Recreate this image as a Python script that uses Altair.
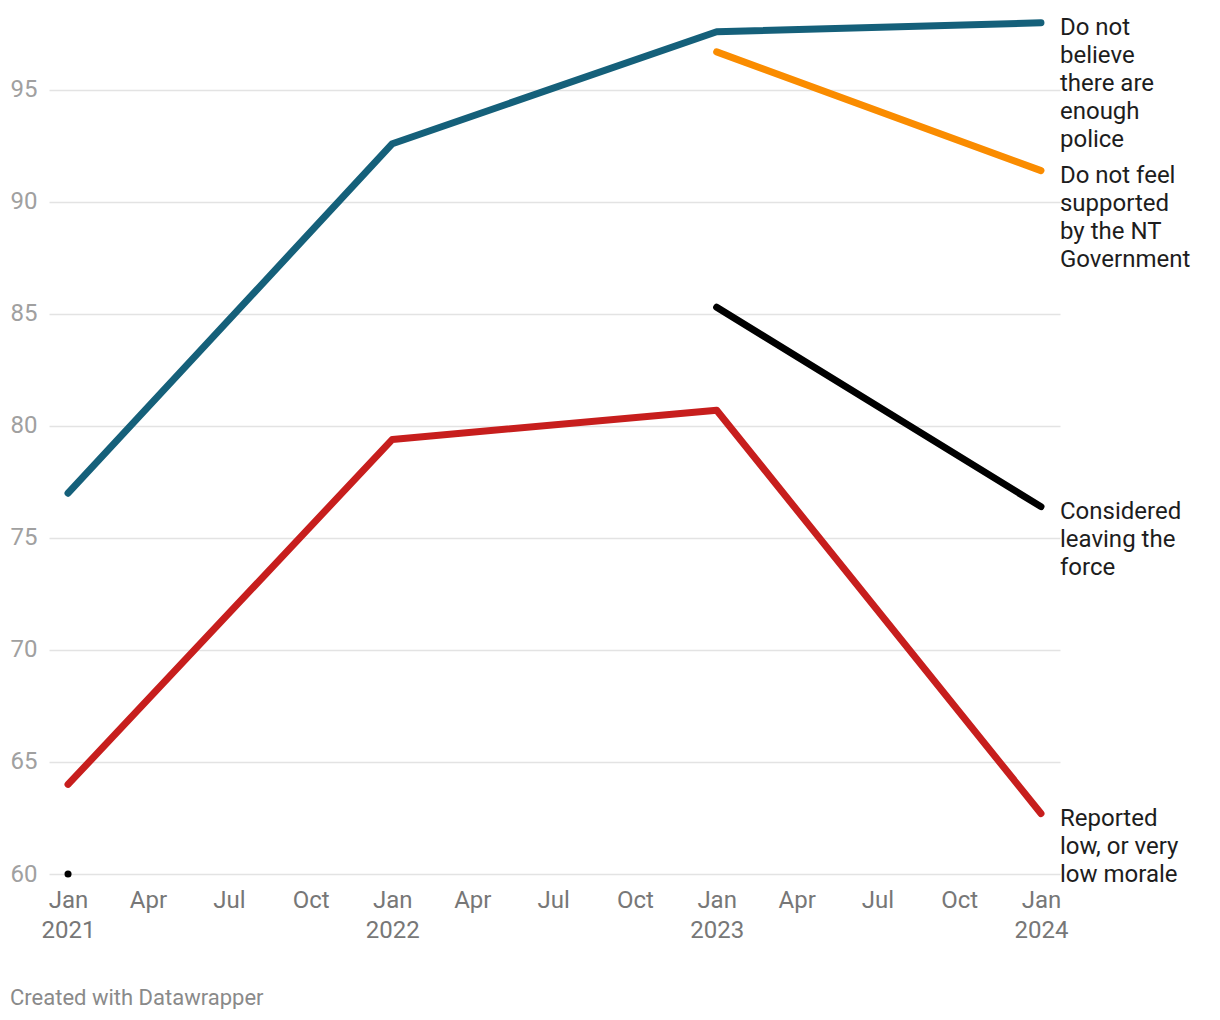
import altair as alt
import pandas as pd

dates = ["2021-01-01", "2022-01-01", "2023-01-01", "2024-01-01"]
series_names = [
    "Do not believe there are enough police",
    "Do not feel supported by the NT Government",
    "Considered leaving the force",
    "Reported low, or very low morale",
]
label_texts = [
    "Do not\nbelieve\nthere are\nenough\npolice",
    "Do not feel\nsupported\nby the NT\nGovernment",
    "Considered\nleaving the\nforce",
    "Reported\nlow, or very\nlow morale",
]
police = [77.0, 92.6, 97.6, 98.0]
support = [None, None, 96.7, 91.4]
leaving = [None, None, 85.3, 76.4]
morale = [64.0, 79.4, 80.7, 62.7]
colors = ["#15607a", "#fa8c00", "#000000", "#c71e1d"]

dot_dates = ["2021-01-01"]
dot_values = [60]

y_ticks = [60, 65, 70, 75, 80, 85, 90, 95]

rows = []
for name, vals in zip(series_names, [police, support, leaving, morale]):
    for d, v in zip(dates, vals):
        if v is not None:
            rows.append({"date": d, "value": v, "series": name})
df = pd.DataFrame(rows)

lab_rows = []
for name, txt, vals in zip(series_names, label_texts, [police, support, leaving, morale]):
    lab_rows.append({"date": dates[-1], "value": vals[-1], "series": name, "label": txt})
labels_df = pd.DataFrame(lab_rows)

dot_df = pd.DataFrame({"date": dot_dates, "value": dot_values})

tick_values = []
for y in [2021, 2022, 2023]:
    for m in [1, 4, 7, 10]:
        tick_values.append(alt.DateTime(year=y, month=m, date=1, utc=True))
tick_values.append(alt.DateTime(year=2024, month=1, date=1, utc=True))

x_scale = alt.Scale(
    type="utc",
    domain=[
        alt.DateTime(year=2020, month=12, date=10, hours=14, utc=True),
        alt.DateTime(year=2024, month=1, date=22, hours=10, utc=True),
    ],
    nice=False,
)
y_scale = alt.Scale(domain=[60, 98.48], nice=False, zero=False)

x_enc = alt.X(
    "date:T",
    scale=x_scale,
    title=None,
    axis=alt.Axis(
        values=tick_values,
        labelExpr="utcmonth(datum.value) == 0 ? [utcFormat(datum.value, '%b'), utcFormat(datum.value, '%Y')] : utcFormat(datum.value, '%b')",
        grid=False,
        domain=False,
        ticks=False,
        labelFontSize=24,
        labelColor="#777777",
        labelFont="Roboto",
        labelPadding=14,
        labelLineHeight=30,
        labelFlush=False,
        labelOverlap=False,
    ),
)
y_enc = alt.Y(
    "value:Q",
    scale=y_scale,
    title=None,
    axis=alt.Axis(
        values=y_ticks,
        grid=True,
        gridColor="#e3e3e3",
        gridWidth=1.3,
        domain=False,
        ticks=False,
        labelFontSize=24,
        labelColor="#a0a0a0",
        labelFont="Roboto",
        labelPadding=12,
    ),
)

color_enc = alt.Color(
    "series:N",
    scale=alt.Scale(domain=series_names, range=colors),
    legend=None,
)

lines = alt.Chart(df).mark_line(strokeWidth=7, strokeCap="round", strokeJoin="round").encode(
    x=x_enc, y=y_enc, color=color_enc, detail="series:N"
)

texts = alt.Chart(labels_df).mark_text(
    align="left",
    baseline="alphabetic",
    dx=19,
    dy=12.5,
    lineBreak="\n",
    lineHeight=28,
    fontSize=24,
    font="Roboto",
    color="#1d1d1d",
).encode(x="date:T", y="value:Q", text="label:N")

dot = alt.Chart(dot_df).mark_circle(size=50, color="#000000", opacity=1).encode(
    x="date:T", y="value:Q"
)

chart = (
    alt.layer(lines, texts, dot)
    .properties(
        width=1011,
        height=862,
        autosize=alt.AutoSizeParams(type="none"),
        padding={"left": 41, "top": 4, "right": 150, "bottom": 135},
        view=alt.ViewBackground(stroke="transparent", strokeWidth=0),
        title=alt.TitleParams(
            text="Created with Datawrapper",
            orient="bottom",
            anchor="start",
            dx=0,
            offset=46,
            fontSize=22,
            font="Roboto",
            fontWeight="normal",
            color="#8a8a8a",
        ),
    )
    .configure_view(stroke="transparent", strokeWidth=0)
    .configure(background="white")
)

chart.save("out.html", embed_options={"renderer": "svg", "actions": False})
